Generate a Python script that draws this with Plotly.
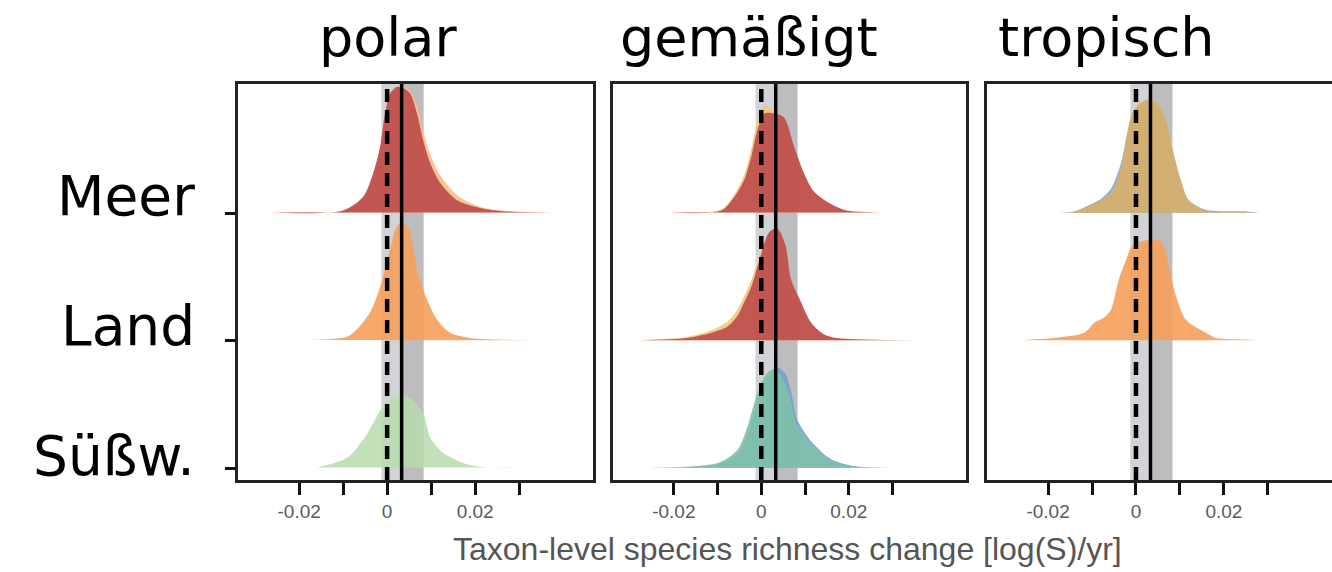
import plotly.graph_objects as go

# ---- panel / row labels ----
climates = ["polar", "gemäßigt", "tropisch"]
realms = ["Meer", "Land", "Süßw."]          # top to bottom
row_base = {"Meer": 2, "Land": 1, "Süßw.": 0}

tick_vals = [-0.02, -0.01, 0.0, 0.01, 0.02, 0.03]
tick_text = ["-0.02", "", "0", "", "0.02", ""]

null_value = 0.0          # dashed reference line
mean_value = 0.0033       # overall mean (solid line)
null_band = [-0.0013, 0.0033]
mean_band = [0.0033, 0.0083]

# ---- density curves (x in log(S)/yr, height in row units) ----
# polar / Meer
pm_x = [-0.0266, -0.0100, -0.0055, -0.0032, -0.0016, -0.0005, 0.0007, 0.0023,
        0.0036, 0.0052, 0.0068, 0.0082, 0.0098, 0.0120, 0.0159, 0.0211, 0.0273, 0.0427]
pm_red = [0.004, 0.02, 0.125, 0.31, 0.52, 0.78, 0.94, 0.99,
          0.98, 0.94, 0.78, 0.57, 0.39, 0.24, 0.10, 0.04, 0.012, 0.004]
pm_orange = [0.004, 0.02, 0.12, 0.28, 0.50, 0.74, 0.92, 0.99,
             0.99, 0.96, 0.84, 0.64, 0.46, 0.30, 0.14, 0.05, 0.016, 0.004]
# polar / Land
pl_x = [-0.0200, -0.0091, -0.0068, -0.0039, -0.0023, -0.0009, 0.0007, 0.0023,
        0.0036, 0.0052, 0.0068, 0.0091, 0.0114, 0.0143, 0.0189, 0.0273, 0.0330]
pl_orange = [0.004, 0.03, 0.09, 0.22, 0.35, 0.50, 0.72, 0.90,
             0.93, 0.86, 0.55, 0.32, 0.16, 0.06, 0.02, 0.006, 0.003]
# polar / Süßwasser
ps_x = [-0.0159, -0.0091, -0.0055, -0.0032, -0.0016, 0.0007, 0.0030, 0.0052,
        0.0082, 0.0098, 0.0127, 0.0173, 0.0211, 0.0300]
ps_green = [0.004, 0.08, 0.22, 0.35, 0.45, 0.53, 0.57, 0.55,
            0.43, 0.24, 0.12, 0.04, 0.01, 0.003]

# gemäßigt / Meer
tm_x = [-0.0205, -0.0091, -0.0061, -0.0039, -0.0023, -0.0009, 0.0007, 0.0030,
        0.0052, 0.0075, 0.0098, 0.0120, 0.0159, 0.0195, 0.0355]
tm_red = [0.004, 0.02, 0.13, 0.26, 0.44, 0.65, 0.78, 0.78,
          0.75, 0.52, 0.31, 0.17, 0.07, 0.02, 0.004]
tm_yellow = [0.004, 0.03, 0.15, 0.30, 0.50, 0.72, 0.84, 0.80,
             0.70, 0.48, 0.29, 0.16, 0.065, 0.02, 0.004]
# gemäßigt / Land
tl_x = [-0.0277, -0.0168, -0.0114, -0.0077, -0.0055, -0.0039, -0.0023, -0.0005,
        0.0018, 0.0036, 0.0055, 0.0068, 0.0091, 0.0114, 0.0143, 0.0173, 0.0355]
tl_red = [0.003, 0.02, 0.06, 0.11, 0.19, 0.30, 0.42, 0.62,
          0.85, 0.88, 0.75, 0.48, 0.30, 0.14, 0.05, 0.02, 0.003]
tl_yellow = [0.003, 0.03, 0.08, 0.15, 0.24, 0.35, 0.47, 0.66,
             0.84, 0.84, 0.70, 0.45, 0.27, 0.12, 0.04, 0.015, 0.003]
# gemäßigt / Süßwasser
ts_x = [-0.0255, -0.0100, -0.0055, -0.0032, -0.0016, 0.0000, 0.0018, 0.0036,
        0.0055, 0.0068, 0.0082, 0.0114, 0.0159, 0.0211, 0.0314]
ts_teal = [0.003, 0.04, 0.14, 0.32, 0.51, 0.67, 0.76, 0.76,
           0.66, 0.52, 0.33, 0.19, 0.06, 0.01, 0.003]
ts_blue = [0.003, 0.03, 0.11, 0.26, 0.44, 0.62, 0.74, 0.79,
           0.74, 0.60, 0.38, 0.21, 0.07, 0.015, 0.003]

# tropisch / Meer
rm_x = [-0.0175, -0.0141, -0.0111, -0.0080, -0.0057, -0.0043, -0.0032, -0.0020,
        -0.0009, 0.0007, 0.0030, 0.0052, 0.0068, 0.0082, 0.0102, 0.0120, 0.0159,
        0.0250, 0.0280]
rm_tan = [0.003, 0.01, 0.05, 0.10, 0.16, 0.26, 0.39, 0.63,
          0.78, 0.86, 0.89, 0.85, 0.73, 0.52, 0.26, 0.10, 0.02,
          0.008, 0.003]
rm_blue = [0.003, 0.012, 0.055, 0.11, 0.19, 0.30, 0.42, 0.62,
           0.76, 0.84, 0.87, 0.83, 0.71, 0.50, 0.25, 0.10, 0.025,
           0.012, 0.003]
# tropisch / Land
rl_x = [-0.0266, -0.0186, -0.0118, -0.0095, -0.0073, -0.0057, -0.0039, -0.0023,
        -0.0009, 0.0014, 0.0041, 0.0059, 0.0075, 0.0091, 0.0114, 0.0159, 0.0182,
        0.0245, 0.0280]
rl_orange = [0.003, 0.02, 0.06, 0.14, 0.18, 0.24, 0.48, 0.63,
             0.74, 0.78, 0.79, 0.77, 0.58, 0.35, 0.16, 0.06, 0.02,
             0.008, 0.003]

# colours
RED = "#c0504e"
ORANGE = "#f6a05c"
LIGHT_ORANGE = "#f9bf8a"
GREEN = "#b7dcac"
YELLOW = "#ecc97d"
TAN = "#d8b06a"
TEAL = "#7fc1a9"
BLUE = "#6d9fd2"

# (panel index, row, x, heights, colour, opacity), back to front
densities = [
    (0, "Meer", pm_x, pm_orange, LIGHT_ORANGE, 0.9),
    (0, "Meer", pm_x, pm_red, RED, 0.95),
    (0, "Land", pl_x, pl_orange, ORANGE, 0.9),
    (0, "Süßw.", ps_x, ps_green, GREEN, 0.85),
    (1, "Meer", tm_x, tm_yellow, YELLOW, 0.9),
    (1, "Meer", tm_x, tm_red, RED, 0.95),
    (1, "Land", tl_x, tl_yellow, YELLOW, 0.9),
    (1, "Land", tl_x, tl_red, RED, 0.95),
    (1, "Süßw.", ts_x, ts_blue, BLUE, 0.85),
    (1, "Süßw.", ts_x, ts_teal, TEAL, 0.9),
    (2, "Meer", rm_x, rm_blue, BLUE, 0.8),
    (2, "Meer", rm_x, rm_tan, TAN, 0.92),
    (2, "Land", rl_x, rl_orange, ORANGE, 0.9),
]

W, H = 1332, 572
px_x = lambda p: p / W
px_y = lambda p: 1 - p / H

x_domains = [[px_x(238), px_x(593)], [px_x(613), px_x(966)], [px_x(987), 1.0]]
x_ranges = [[-0.0339, 0.0468], [-0.0339, 0.0468], [-0.0339, 0.0446]]
y_domain = [px_y(480), px_y(84)]
y_range = [-0.094, 3.012]

fig = go.Figure()

for panel, realm, xs, hs, colour, op in densities:
    base = row_base[realm]
    sfx = "" if panel == 0 else str(panel + 1)
    fig.add_trace(go.Scatter(
        x=xs, y=[base + h for h in hs],
        xaxis="x" + sfx, yaxis="y" + sfx,
        mode="lines", fill="toself", fillcolor=colour, opacity=op,
        line=dict(width=0, shape="spline", smoothing=0.8, color=colour),
        hoverinfo="skip", showlegend=False,
    ))

layout = dict(
    width=W, height=H, margin=dict(l=0, r=0, t=0, b=0),
    paper_bgcolor="white", plot_bgcolor="white", showlegend=False,
)

for i in range(3):
    sfx = "" if i == 0 else str(i + 1)
    layout["xaxis" + sfx] = dict(
        domain=x_domains[i], range=x_ranges[i], anchor="y" + sfx,
        tickmode="array", tickvals=tick_vals, ticktext=tick_text,
        ticks="outside", ticklen=12, tickwidth=3, tickcolor="#111",
        tickfont=dict(family="Liberation Sans", size=19, color="#5a5a5a"),
        showgrid=False, zeroline=False,
        showline=True, linecolor="#222", linewidth=2.5, mirror=True,
    )
    layout["yaxis" + sfx] = dict(
        domain=y_domain, range=y_range, anchor="x" + sfx,
        tickmode="array", tickvals=[0, 1, 2], showticklabels=False,
        ticks="outside" if i == 0 else "", ticklen=10, tickwidth=3, tickcolor="#111",
        showgrid=False, zeroline=False,
        showline=True, linecolor="#222", linewidth=2.5, mirror=(i < 2),
    )

fig.update_layout(**layout)

shapes = []
for i in range(3):
    sfx = "" if i == 0 else str(i + 1)
    xr, yr = "x" + sfx, "y" + sfx + " domain"
    shapes.append(dict(type="rect", xref=xr, yref=yr, x0=null_band[0], x1=null_band[1],
                       y0=0, y1=1, fillcolor="#d2d3d7", line=dict(width=0), layer="below"))
    shapes.append(dict(type="rect", xref=xr, yref=yr, x0=mean_band[0], x1=mean_band[1],
                       y0=0, y1=1, fillcolor="#bdbdbf", line=dict(width=0), layer="below"))
    shapes.append(dict(type="line", xref=xr, yref=yr, x0=null_value, x1=null_value,
                       y0=0, y1=1, line=dict(color="black", width=4.5, dash="13px,8px"),
                       layer="above"))
    shapes.append(dict(type="line", xref=xr, yref=yr, x0=mean_value, x1=mean_value,
                       y0=0, y1=1, line=dict(color="black", width=3.5), layer="above"))
fig.update_layout(shapes=shapes)

annotations = []
title_centres = [388, 749, 1106]
for name, cx in zip(climates, title_centres):
    annotations.append(dict(text=name, x=px_x(cx), y=px_y(37), xref="paper", yref="paper",
                            xanchor="center", yanchor="middle", showarrow=False,
                            font=dict(family="DejaVu Sans", size=54, color="black")))
label_centres = {"Meer": 196, "Land": 326, "Süßw.": 456}
for name in realms:
    annotations.append(dict(text=name, x=px_x(197), y=px_y(label_centres[name]),
                            xref="paper", yref="paper", xanchor="right", yanchor="middle",
                            showarrow=False,
                            font=dict(family="DejaVu Sans", size=55, color="black")))
annotations.append(dict(text="Taxon-level species richness change [log(S)/yr]",
                        x=px_x(787), y=px_y(549), xref="paper", yref="paper",
                        xanchor="center", yanchor="middle", showarrow=False,
                        font=dict(family="Liberation Sans", size=32, color="#555")))
fig.update_layout(annotations=annotations)

fig.write_html("out.html")
